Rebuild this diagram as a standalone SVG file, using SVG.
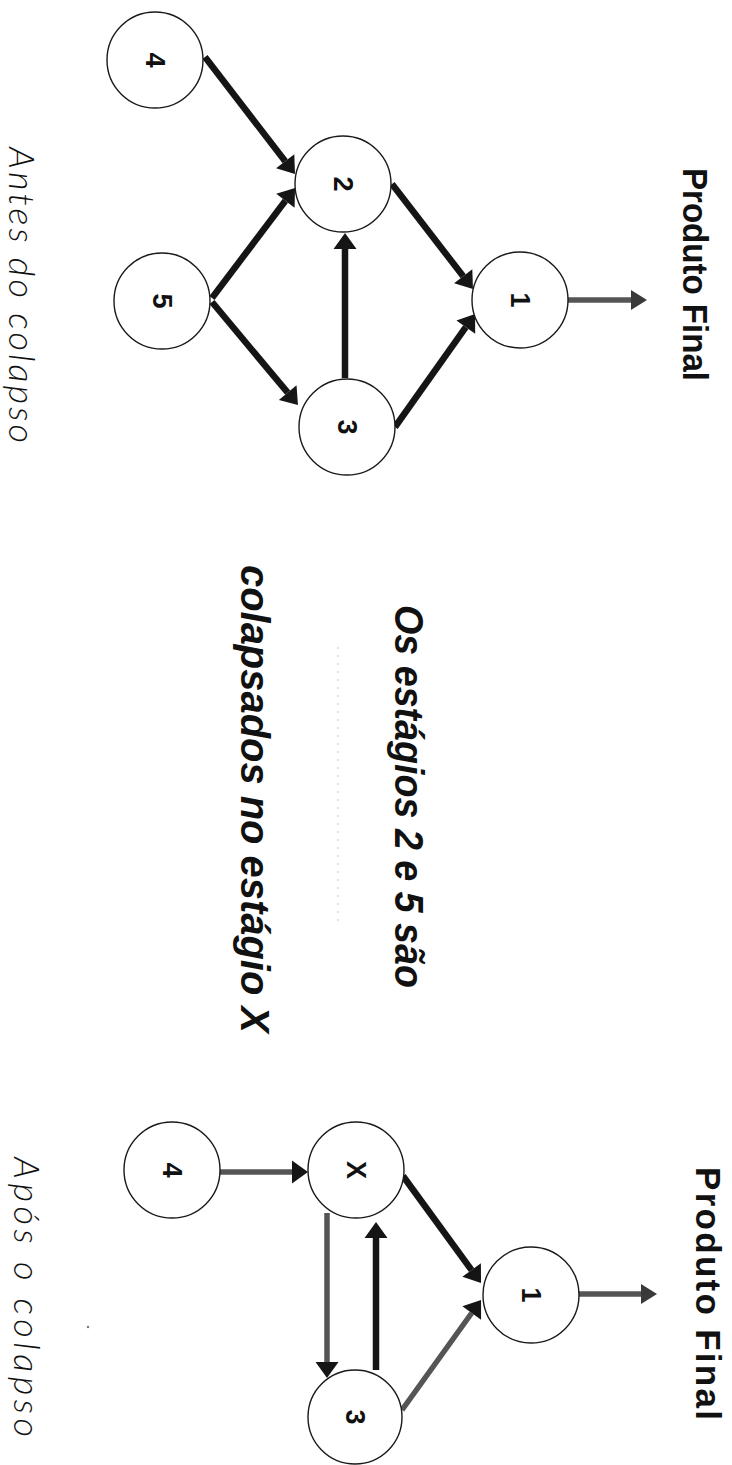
<svg xmlns="http://www.w3.org/2000/svg" width="732" height="1465" viewBox="0 0 732 1465">
<style>
.bg{fill:#fff}
.node circle{fill:#fff;stroke:#1a1a1a;stroke-width:1.4}
.lbl{font-family:"Liberation Sans",Arial,sans-serif;font-weight:bold;font-size:27px;fill:#111;text-anchor:middle}
.title{font-family:"Liberation Sans",Arial,sans-serif;font-weight:bold;font-size:35px;fill:#111}
.big{font-family:"Liberation Sans",Arial,sans-serif;font-weight:bold;font-style:italic;font-size:41px;fill:#111}
.cap{font-family:Lato,"Liberation Sans",sans-serif;font-weight:300;font-style:italic;font-size:36px;fill:#111}
.dark{stroke:#151515;stroke-width:6.5;fill:none}
.grey{stroke:#555;stroke-width:5.5;fill:none}
</style>
<defs>
<marker id="ahD" viewBox="0 -12 17 24" refX="0" refY="0" markerWidth="17" markerHeight="24" markerUnits="userSpaceOnUse" orient="auto" overflow="visible">
<path d="M0,-11.5 L16,0 L0,11.5 Z" fill="#151515"/>
</marker>
<marker id="ahG" viewBox="0 -12 17 24" refX="0" refY="0" markerWidth="17" markerHeight="24" markerUnits="userSpaceOnUse" orient="auto" overflow="visible">
<path d="M0,-10 L16,0 L0,10 Z" fill="#3a3a3a"/>
</marker>
</defs>
<rect class="bg" x="0" y="0" width="732" height="1465"/>

<g id="connectors">
<line class="dark" x1="205" y1="57" x2="285.2" y2="161.3" marker-end="url(#ahD)"/>
<line class="dark" x1="212" y1="298" x2="285.4" y2="200.8" marker-end="url(#ahD)"/>
<line class="dark" x1="212" y1="302" x2="287.7" y2="392.7" marker-end="url(#ahD)"/>
<line class="dark" x1="345" y1="378" x2="345" y2="249" marker-end="url(#ahD)"/>
<line class="dark" x1="392" y1="184" x2="463.2" y2="276.3" marker-end="url(#ahD)"/>
<line class="dark" x1="395" y1="427" x2="465.8" y2="327.1" marker-end="url(#ahD)"/>
<line class="grey" x1="568" y1="300" x2="631" y2="300" marker-end="url(#ahG)"/>

<line class="grey" x1="220" y1="1172" x2="292" y2="1172" marker-end="url(#ahD)"/>
<line class="dark" x1="403" y1="1176" x2="471.6" y2="1270.1" marker-end="url(#ahD)"/>
<line class="grey" x1="402" y1="1410" x2="471.7" y2="1313" marker-end="url(#ahD)"/>
<line class="grey" x1="327" y1="1213" x2="327" y2="1362" marker-end="url(#ahD)"/>
<line class="dark" x1="376" y1="1370" x2="376" y2="1238" marker-end="url(#ahD)"/>
<line class="grey" x1="578" y1="1294" x2="641" y2="1294" marker-end="url(#ahG)"/>
</g>

<g id="n4a" class="node"><circle cx="155" cy="60" r="48"/><text class="lbl" transform="translate(155,60) rotate(90)" dy="9.5">4</text></g>
<g id="n5a" class="node"><circle cx="162" cy="301" r="48"/><text class="lbl" transform="translate(162,301) rotate(90)" dy="9.5">5</text></g>
<g id="n2a" class="node"><circle cx="343" cy="184" r="48"/><text class="lbl" transform="translate(343,184) rotate(90)" dy="9.5">2</text></g>
<g id="n3a" class="node"><circle cx="347" cy="427" r="48"/><text class="lbl" transform="translate(347,427) rotate(90)" dy="9.5">3</text></g>
<g id="n1a" class="node"><circle cx="520" cy="300" r="48"/><text class="lbl" transform="translate(520,300) rotate(90)" dy="9.5">1</text></g>

<g id="n4b" class="node"><circle cx="172" cy="1170" r="48"/><text class="lbl" transform="translate(172,1170) rotate(90)" dy="9.5">4</text></g>
<g id="nXb" class="node"><circle cx="356" cy="1170" r="48"/><text class="lbl" transform="translate(356,1170) rotate(90)" dy="9.5">X</text></g>
<g id="n3b" class="node"><circle cx="355" cy="1417" r="47"/><text class="lbl" transform="translate(355,1417) rotate(90)" dy="9.5">3</text></g>
<g id="n1b" class="node"><circle cx="531" cy="1295" r="48"/><text class="lbl" transform="translate(531,1295) rotate(90)" dy="9.5">1</text></g>

<g id="texts">
<text class="title" transform="translate(683,168) rotate(90)" textLength="213" lengthAdjust="spacingAndGlyphs">Produto Final</text>
<text class="title" transform="translate(696,1167) rotate(90)" textLength="253" lengthAdjust="spacing">Produto Final</text>
<text class="cap" transform="translate(9,147) rotate(90)" textLength="296" lengthAdjust="spacing">Antes do colapso</text>
<text class="cap" transform="translate(14,1157) rotate(90)" textLength="280" lengthAdjust="spacing">Após o colapso</text>
<text class="big" transform="translate(395,605) rotate(90)" textLength="383" lengthAdjust="spacingAndGlyphs">Os estágios 2 e 5 são</text>
<text class="big" transform="translate(241,565) rotate(90)" textLength="468" lengthAdjust="spacingAndGlyphs">colapsados no estágio X</text>
</g>
<line x1="338" y1="647" x2="338" y2="925" stroke="#c8c8c8" stroke-width="1" stroke-dasharray="2 6"/>
<circle cx="88" cy="1327" r="1.2" fill="#777"/>
</svg>
